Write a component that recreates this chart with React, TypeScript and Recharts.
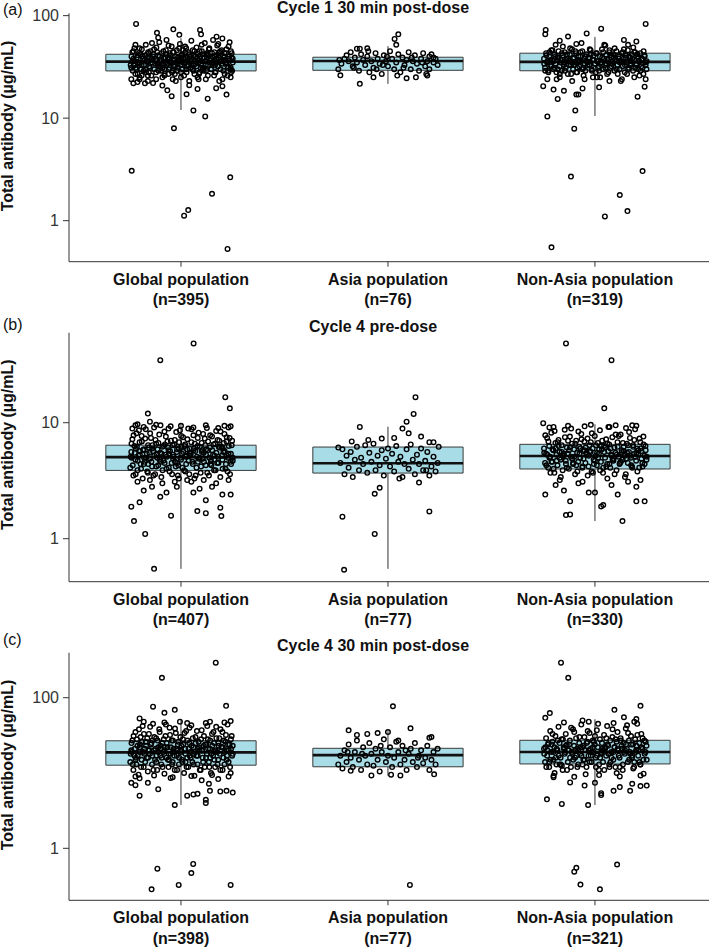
import { ReferenceArea, ReferenceLine, Scatter, ScatterChart, XAxis, YAxis } from "recharts"

type Pt = [number, number]
// lower whisker, q1, median, q3, upper whisker
type Box = [number, number, number, number, number]

const GROUPS = ["Global population", "Asia population", "Non-Asia population"]
const TITLES = ["Cycle 1 30 min post-dose", "Cycle 4 pre-dose", "Cycle 4 30 min post-dose"]
const TAGS = ["(a)", "(b)", "(c)"]

const N_C1_POST = [395, 76, 319]
const N_C4_PRE = [407, 77, 330]
const N_C4_POST = [398, 77, 321]

const BOX_C1_POST: Box[] = [
  [12, 28.9, 35.6, 42, 60],
  [21.6, 29.3, 36.1, 39.3, 50.4],
  [10.5, 29, 35.4, 43, 62]
]
const BOX_C4_PRE: Box[] = [
  [0.55, 3.88, 5.05, 6.4, 9.8],
  [0.55, 3.68, 4.47, 6.17, 9.24],
  [1.42, 3.99, 5.16, 6.51, 9.7]
]
const BOX_C4_POST: Box[] = [
  [3.76, 12.7, 18.8, 26.8, 51.7],
  [9.2, 12.1, 17.3, 21.3, 36],
  [3.76, 13.2, 19, 27.2, 51.7]
]

const Y_TICKS_C1_POST = [1, 10, 100]
const Y_TICKS_C4_PRE = [1, 10]
const Y_TICKS_C4_POST = [1, 100]

// jittered points: [offset from the group centre, µg/mL]
const C1_POST_GLOBAL: Pt[] = [
  [-0.238, 3.07], [0.238, 2.65], [0.15, 1.83], [0.035, 1.27], [0.015, 1.12], [0.225, 0.53], [-0.034, 7.97], [0.06, 11.9],
  [0.117, 10.4], [0.027, 17.1], [-0.045, 16.4], [-0.066, 18.7], [0.129, 15.5], [0.22, 17], [-0.217, 83], [-0.037, 73.6],
  [0.092, 72.5], [0.097, 65.8], [-0.116, 68], [-0.008, 65], [0.172, 62.4], [-0.11, 61], [-0.174, 21.9], [-0.23, 21.9],
  [-0.21, 22.5], [0.2, 20.5], [0.17, 19.6], [0.08, 19.3], [-0.09, 20.8],
  [-0.24, 31], [-0.23, 38], [-0.235, 44], [-0.22, 27], [-0.21, 35], [-0.2, 48], [-0.2, 24], [-0.19, 33], [-0.185, 40],
  [-0.18, 29], [-0.17, 52], [-0.165, 36], [-0.16, 26], [-0.155, 43], [-0.15, 31], [-0.14, 38], [-0.135, 22], [-0.13, 47],
  [-0.125, 34], [-0.12, 28], [-0.11, 41], [-0.105, 55], [-0.1, 32], [-0.095, 37], [-0.09, 25], [-0.085, 45], [-0.08, 30],
  [-0.075, 39], [-0.07, 58], [-0.065, 34], [-0.06, 27], [-0.055, 43], [-0.05, 36], [-0.045, 50], [-0.04, 29], [-0.035, 33],
  [-0.03, 40], [-0.025, 23], [-0.02, 46], [-0.015, 31], [-0.01, 37], [-0.005, 53], [0, 28], [0.005, 42], [0.01, 35],
  [0.015, 26], [0.02, 39], [0.025, 48], [0.03, 32], [0.035, 44], [0.04, 21], [0.045, 36], [0.05, 57], [0.055, 30],
  [0.06, 41], [0.065, 27], [0.07, 34], [0.075, 49], [0.08, 38], [0.085, 24], [0.09, 45], [0.095, 31], [0.1, 36],
  [0.105, 42], [0.11, 29], [0.115, 54], [0.12, 33], [0.125, 39], [0.13, 26], [0.135, 47], [0.14, 35], [0.145, 30],
  [0.15, 43], [0.155, 58], [0.16, 37], [0.165, 28], [0.17, 41], [0.175, 51], [0.18, 32], [0.185, 23], [0.19, 45],
  [0.195, 36], [0.2, 60], [0.205, 29], [0.21, 40], [0.215, 34], [0.22, 47], [0.225, 26], [0.23, 38], [0.235, 55],
  [0.24, 31], [0.245, 43], [0.25, 35], [-0.228, 33], [-0.208, 41], [-0.172, 30], [-0.148, 45], [-0.118, 36], [-0.088, 33],
  [-0.058, 38], [-0.028, 35], [0.002, 39], [0.032, 37], [0.062, 33], [0.092, 40], [0.122, 36], [0.152, 34], [0.182, 39],
  [0.212, 37], [0.242, 28], [-0.235, 36], [-0.215, 30], [-0.195, 42], [-0.175, 37], [-0.155, 28], [-0.135, 40],
  [-0.115, 44], [-0.095, 29], [-0.075, 35], [-0.055, 31], [-0.035, 44], [-0.015, 39], [0.005, 33], [0.025, 30],
  [0.045, 40], [0.065, 45], [0.085, 35], [0.105, 30], [0.125, 43], [0.145, 38], [0.165, 33], [0.185, 44], [0.205, 37],
  [0.225, 32], [0.245, 39], [-0.225, 48], [-0.19, 26], [-0.16, 39], [-0.11, 33], [-0.07, 42], [-0.03, 27], [0.01, 46],
  [0.05, 34], [0.09, 28], [0.13, 41], [0.17, 36], [0.21, 43], [0.24, 30], [-0.2, 34], [0, 36]
]
const C1_POST_GLOBAL_CORE: Pt[] = [
  [-0.243, 33], [-0.239, 40], [-0.233, 29], [-0.229, 45], [-0.223, 36], [-0.219, 31], [-0.213, 39], [-0.209, 27],
  [-0.203, 43], [-0.199, 35], [-0.193, 30], [-0.189, 47], [-0.183, 38], [-0.179, 33], [-0.173, 41], [-0.169, 28],
  [-0.163, 36], [-0.159, 44], [-0.153, 32], [-0.149, 39], [-0.143, 26], [-0.139, 35], [-0.133, 42], [-0.129, 30],
  [-0.123, 37], [-0.119, 49], [-0.113, 34], [-0.109, 29], [-0.103, 40], [-0.099, 36], [-0.093, 43], [-0.089, 31],
  [-0.083, 38], [-0.079, 27], [-0.073, 46], [-0.069, 33], [-0.063, 39], [-0.059, 30], [-0.053, 41], [-0.049, 35],
  [-0.043, 28], [-0.039, 44], [-0.033, 37], [-0.029, 32], [-0.023, 40], [-0.019, 29], [-0.013, 36], [-0.009, 48],
  [-0.003, 33], [0.001, 41], [0.007, 30], [0.011, 38], [0.017, 35], [0.021, 44], [0.027, 28], [0.031, 39], [0.037, 33],
  [0.041, 42], [0.047, 31], [0.051, 37], [0.057, 46], [0.061, 29], [0.067, 36], [0.071, 40], [0.077, 32], [0.081, 43],
  [0.087, 27], [0.091, 38], [0.097, 34], [0.101, 45], [0.107, 31], [0.111, 39], [0.117, 36], [0.121, 29], [0.127, 42],
  [0.131, 33], [0.137, 48], [0.141, 37], [0.147, 30], [0.151, 40], [0.157, 35], [0.161, 44], [0.167, 28], [0.171, 38],
  [0.177, 32], [0.181, 41], [0.187, 36], [0.191, 30], [0.197, 46], [0.201, 34], [0.207, 39], [0.211, 27], [0.217, 43],
  [0.221, 35], [0.227, 31], [0.231, 40], [0.237, 37], [0.241, 45], [0.247, 29], [0.25, 38], [-0.24, 24], [-0.2, 25],
  [-0.16, 23], [-0.12, 24], [-0.08, 26], [-0.04, 24], [0, 25], [0.04, 23], [0.08, 25], [0.12, 24], [0.16, 26], [0.2, 24],
  [0.24, 25], [-0.22, 52], [-0.14, 54], [-0.06, 51], [0.02, 50], [0.1, 52], [0.18, 53], [0.23, 50]
]
const C1_POST_ASIA: Pt[] = [
  [0.05, 65.8], [0.032, 59.3], [0.04, 52], [-0.136, 47.6], [-0.15, 47.6], [-0.23, 26.2], [-0.136, 21.6], [-0.07, 25],
  [0.09, 24.5], [0.19, 26], [-0.1, 48], [0.2, 40], [0.22, 39],
  [-0.24, 30], [-0.225, 34], [-0.21, 38], [-0.2, 41], [-0.19, 36], [-0.18, 44], [-0.17, 32], [-0.16, 39], [-0.15, 35],
  [-0.14, 29], [-0.13, 42], [-0.12, 37], [-0.11, 33], [-0.1, 40], [-0.09, 28], [-0.08, 36], [-0.07, 31], [-0.06, 43],
  [-0.05, 38], [-0.04, 34], [-0.03, 27], [-0.02, 41], [-0.01, 36], [0, 32], [0.01, 45], [0.02, 38], [0.03, 30],
  [0.04, 35], [0.05, 42], [0.06, 28], [0.07, 39], [0.08, 33], [0.09, 37], [0.1, 44], [0.11, 30], [0.12, 36],
  [0.13, 41], [0.14, 34], [0.15, 29], [0.16, 38], [0.17, 43], [0.18, 32], [0.19, 36], [0.2, 30], [0.21, 42],
  [0.22, 35], [0.23, 38], [0.24, 33], [-0.235, 37], [-0.165, 31], [-0.095, 45], [-0.025, 33], [0.045, 26], [0.115, 39],
  [0.185, 27], [0.165, 35], [-0.055, 30], [0.075, 31], [-0.005, 40], [0.135, 25]
]
const C1_POST_NON_ASIA: Pt[] = [
  [-0.21, 0.55], [-0.116, 2.69], [0.23, 3.05], [0.12, 1.78], [0.157, 1.24], [0.048, 1.1], [-0.1, 7.9], [-0.23, 10.4],
  [-0.095, 11.9], [0.206, 16.2], [-0.18, 15.4], [-0.08, 17], [-0.09, 17], [0.245, 83], [-0.238, 72.5], [0.03, 74.7],
  [-0.04, 67], [-0.13, 62.6], [0.24, 20.3], [-0.25, 20.5], [-0.2, 19], [-0.15, 18.5], [-0.06, 19.5], [0.02, 20],
  [-0.24, 66], [0.14, 58], [0.2, 56], [-0.17, 57],
  [-0.245, 34], [-0.235, 41], [-0.225, 28], [-0.215, 37], [-0.205, 46], [-0.195, 31], [-0.185, 24], [-0.175, 39],
  [-0.165, 35], [-0.155, 50], [-0.145, 29], [-0.135, 42], [-0.125, 33], [-0.115, 27], [-0.105, 38], [-0.095, 45],
  [-0.085, 31], [-0.075, 36], [-0.065, 54], [-0.055, 26], [-0.045, 40], [-0.035, 33], [-0.025, 47], [-0.015, 29],
  [-0.005, 37], [0.005, 43], [0.015, 31], [0.025, 25], [0.035, 39], [0.045, 52], [0.055, 34], [0.065, 28], [0.075, 41],
  [0.085, 36], [0.095, 48], [0.105, 30], [0.115, 38], [0.125, 23], [0.135, 44], [0.145, 33], [0.155, 27], [0.165, 40],
  [0.175, 36], [0.185, 49], [0.195, 31], [0.205, 42], [0.215, 26], [0.225, 37], [0.235, 45], [0.245, 33], [-0.24, 29],
  [-0.22, 44], [-0.2, 36], [-0.18, 30], [-0.16, 43], [-0.14, 37], [-0.12, 48], [-0.1, 33], [-0.08, 40], [-0.06, 30],
  [-0.04, 36], [-0.02, 42], [0, 34], [0.02, 29], [0.04, 44], [0.06, 38], [0.08, 32], [0.1, 41], [0.12, 35], [0.14, 47],
  [0.16, 30], [0.18, 38], [0.2, 34], [0.22, 29], [0.24, 40], [-0.23, 36], [-0.19, 40], [-0.15, 33], [-0.11, 35],
  [-0.07, 44], [-0.03, 38], [0.01, 36], [0.05, 31], [0.09, 39], [0.13, 36], [0.17, 33], [0.21, 39], [0.23, 31],
  [-0.21, 32], [-0.17, 27], [-0.13, 38], [-0.09, 28], [-0.05, 34], [-0.01, 25], [0.03, 35], [0.07, 46], [0.11, 27],
  [0.15, 39], [0.19, 44], [0.25, 36]
]
const C1_POST_NON_ASIA_CORE: Pt[] = [
  [-0.246, 38], [-0.241, 31], [-0.236, 43], [-0.231, 35], [-0.226, 29], [-0.221, 40], [-0.216, 33], [-0.211, 46],
  [-0.206, 37], [-0.201, 30], [-0.196, 42], [-0.191, 34], [-0.186, 28], [-0.181, 39], [-0.176, 45], [-0.171, 32],
  [-0.166, 37], [-0.161, 29], [-0.156, 41], [-0.151, 35], [-0.146, 44], [-0.141, 31], [-0.136, 38], [-0.131, 27],
  [-0.126, 36], [-0.121, 42], [-0.116, 33], [-0.111, 47], [-0.106, 30], [-0.101, 39], [-0.096, 35], [-0.091, 43],
  [-0.086, 28], [-0.081, 37], [-0.076, 32], [-0.071, 40], [-0.066, 36], [-0.061, 45], [-0.056, 31], [-0.051, 38],
  [-0.046, 29], [-0.041, 42], [-0.036, 35], [-0.031, 39], [-0.026, 33], [-0.021, 46], [-0.016, 30], [-0.011, 37],
  [-0.006, 41], [-0.001, 34], [0.004, 28], [0.009, 43], [0.014, 36], [0.019, 32], [0.024, 40], [0.029, 35], [0.034, 47],
  [0.039, 30], [0.044, 38], [0.049, 33], [0.054, 41], [0.059, 27], [0.064, 36], [0.069, 44], [0.074, 31], [0.079, 39],
  [0.084, 34], [0.089, 42], [0.094, 29], [0.099, 37], [0.104, 45], [0.109, 33], [0.114, 40], [0.119, 30], [0.124, 36],
  [0.129, 43], [0.134, 32], [0.139, 38], [0.144, 28], [0.149, 41], [0.154, 35], [0.159, 46], [0.164, 31], [0.169, 39],
  [0.174, 34], [0.179, 42], [0.184, 29], [0.189, 37], [0.194, 44], [0.199, 33], [0.204, 40], [0.209, 30], [0.214, 36],
  [0.219, 43], [0.224, 32], [0.229, 38], [0.234, 27], [0.239, 41], [0.244, 35], [0.249, 30], [-0.23, 24], [-0.17, 25],
  [-0.11, 23], [-0.05, 24], [0.01, 25], [0.07, 23], [0.13, 24], [0.19, 25], [0.245, 24], [-0.19, 52], [-0.09, 53],
  [0.05, 51], [0.16, 52]
]

const C4_PRE_GLOBAL: Pt[] = [
  [0.061, 48.3], [-0.1, 34.6], [0.214, 16.6], [0.236, 13.3], [-0.16, 12], [-0.13, 0.55], [-0.173, 1.1], [-0.227, 1.42],
  [-0.24, 1.89], [-0.2, 2.06], [-0.048, 1.58], [0.079, 1.73], [0.12, 1.66], [0.195, 1.57], [0.19, 1.85], [0.12, 2.15],
  [0.2, 2.4], [0.24, 2.4], [-0.1, 2.3], [-0.07, 2.5], [-0.22, 9.5], [-0.21, 9.7], [-0.15, 10.2], [0.21, 9.4],
  [0.23, 9.1], [-0.02, 2.8], [0.06, 2.5], [0.09, 2.7], [0.15, 2.8], [-0.14, 2.8], [-0.18, 2.6], [0.03, 3.2], [-0.03, 3.1],
  [-0.245, 4.1], [-0.24, 5.6], [-0.235, 7.2], [-0.23, 3.5], [-0.225, 6.3], [-0.22, 4.8], [-0.215, 8.1], [-0.21, 3.9],
  [-0.205, 5.2], [-0.2, 6.8], [-0.195, 4.4], [-0.19, 7.7], [-0.185, 3.3], [-0.18, 5.9], [-0.175, 4.6], [-0.17, 8.8],
  [-0.165, 5.4], [-0.16, 3.7], [-0.155, 6.1], [-0.15, 4.9], [-0.145, 7.4], [-0.14, 4.2], [-0.135, 5.7], [-0.13, 9.1],
  [-0.125, 3.6], [-0.12, 6.6], [-0.115, 5], [-0.11, 4.3], [-0.105, 7.9], [-0.1, 5.5], [-0.095, 3.4], [-0.09, 6.2],
  [-0.085, 4.7], [-0.08, 8.4], [-0.075, 5.3], [-0.07, 4], [-0.065, 6.9], [-0.06, 5.8], [-0.055, 3.8], [-0.05, 9.3],
  [-0.045, 4.5], [-0.04, 6.4], [-0.035, 5.1], [-0.03, 7.1], [-0.025, 4.2], [-0.02, 5.6], [-0.015, 3.5], [-0.01, 6],
  [-0.005, 8.6], [0, 4.8], [0.005, 5.4], [0.01, 7.5], [0.015, 3.9], [0.02, 6.5], [0.025, 4.4], [0.03, 5.9], [0.035, 8.9],
  [0.04, 3.6], [0.045, 5.2], [0.05, 6.8], [0.055, 4.6], [0.06, 7.8], [0.065, 3.3], [0.07, 5.7], [0.075, 4.1], [0.08, 6.3],
  [0.085, 8.2], [0.09, 5], [0.095, 3.7], [0.1, 6.7], [0.105, 4.9], [0.11, 5.5], [0.115, 7.3], [0.12, 4.3], [0.125, 9],
  [0.13, 5.8], [0.135, 3.5], [0.14, 6.1], [0.145, 4.7], [0.15, 7.6], [0.155, 5.3], [0.16, 3.9], [0.165, 6.6], [0.17, 8.5],
  [0.175, 4.5], [0.18, 5.1], [0.185, 7], [0.19, 3.4], [0.195, 6.2], [0.2, 4.8], [0.205, 5.6], [0.21, 8], [0.215, 4],
  [0.22, 6.9], [0.225, 3.8], [0.23, 5.4], [0.235, 7.4], [0.24, 4.6], [0.245, 6.4], [0.25, 5], [-0.238, 5], [-0.198, 5.7],
  [-0.158, 4.4], [-0.118, 5.3], [-0.078, 6.5], [-0.038, 4.9], [0.002, 6.2], [0.042, 5.5], [0.082, 4.6], [0.122, 5.9],
  [0.162, 5.2], [0.202, 6], [0.242, 4.4], [-0.218, 6], [-0.178, 5], [-0.138, 6.4], [-0.098, 4.6], [-0.058, 5.4],
  [-0.018, 4.5], [0.022, 5.1], [0.062, 6], [0.102, 5.8], [0.142, 4.4], [0.182, 6.2], [0.222, 5.2]
]
const C4_PRE_GLOBAL_CORE: Pt[] = [
  [-0.243, 5.1], [-0.239, 6.6], [-0.233, 4.3], [-0.229, 7.8], [-0.223, 5.5], [-0.219, 3.6], [-0.213, 6.2], [-0.209, 4.7],
  [-0.203, 8.6], [-0.199, 5.3], [-0.193, 4], [-0.189, 6.9], [-0.183, 5.8], [-0.179, 4.4], [-0.173, 7.3], [-0.169, 5],
  [-0.163, 3.8], [-0.159, 6.4], [-0.153, 5.5], [-0.149, 8.1], [-0.143, 4.6], [-0.139, 6], [-0.133, 3.5], [-0.129, 5.2],
  [-0.123, 7.1], [-0.119, 4.2], [-0.113, 5.9], [-0.109, 6.7], [-0.103, 4.8], [-0.099, 9.5], [-0.093, 5.4], [-0.089, 3.9],
  [-0.083, 6.3], [-0.079, 4.5], [-0.073, 7.6], [-0.069, 5.1], [-0.063, 6.1], [-0.059, 4.1], [-0.053, 5.7], [-0.049, 7],
  [-0.043, 3.6], [-0.039, 5.3], [-0.033, 6.5], [-0.029, 4.6], [-0.023, 8.3], [-0.019, 5.9], [-0.013, 4.3], [-0.009, 6.8],
  [-0.003, 5], [0.001, 7.7], [0.007, 4.1], [0.011, 5.6], [0.017, 6.3], [0.021, 3.8], [0.027, 5.2], [0.031, 7.2],
  [0.037, 4.7], [0.041, 6], [0.047, 5.4], [0.051, 8.8], [0.057, 4.4], [0.061, 5.8], [0.067, 6.6], [0.071, 3.5],
  [0.077, 5.1], [0.081, 7.4], [0.087, 4.9], [0.091, 6.2], [0.097, 4.2], [0.101, 5.6], [0.107, 8], [0.111, 4.6],
  [0.117, 6.4], [0.121, 5.3], [0.127, 3.7], [0.131, 6.9], [0.137, 5], [0.141, 7.8], [0.147, 4.3], [0.151, 5.8],
  [0.157, 6.5], [0.161, 4.8], [0.167, 3.9], [0.171, 5.5], [0.177, 7.1], [0.181, 4.5], [0.187, 6.1], [0.191, 8.4],
  [0.197, 5.2], [0.201, 4], [0.207, 6.7], [0.211, 5.7], [0.217, 4.4], [0.221, 7.5], [0.227, 5], [0.231, 6.3],
  [0.237, 3.6], [0.241, 5.4], [0.247, 7], [0.25, 4.7], [-0.235, 8.9], [-0.18, 9.2], [-0.12, 9.6], [-0.06, 8.9], [0, 9.4],
  [0.06, 9.1], [0.12, 9.5], [0.18, 9], [0.24, 9.3], [-0.21, 3.1], [-0.15, 3.2], [-0.09, 3], [-0.01, 3.3], [0.05, 3.1],
  [0.11, 3.2], [0.17, 3], [0.23, 3.2]
]
const C4_PRE_ASIA: Pt[] = [
  [0.133, 16.6], [0.124, 11.9], [0.09, 10.2], [0.07, 8.9], [0.1, 8.1], [-0.136, 9.2], [-0.212, 0.54], [-0.064, 1.1],
  [-0.22, 1.55], [0.2, 1.72], [-0.064, 2.44], [-0.04, 2.75], [0.15, 3.05], [0.22, 6.8], [0.2, 6.8], [0.16, 7.6],
  [0.03, 7.4], [-0.03, 7.3],
  [-0.24, 6.1], [-0.23, 4.5], [-0.22, 5.9], [-0.21, 3.6], [-0.2, 5.2], [-0.19, 4.1], [-0.18, 5.6], [-0.17, 3.4],
  [-0.16, 4.8], [-0.15, 6.2], [-0.14, 3.9], [-0.13, 5], [-0.12, 4.4], [-0.11, 6.4], [-0.1, 3.7], [-0.09, 5.5],
  [-0.08, 4.6], [-0.07, 6.6], [-0.06, 3.9], [-0.05, 5.2], [-0.04, 4.3], [-0.03, 5.8], [-0.02, 3.5], [-0.01, 4.9], [0, 6],
  [0.01, 4.2], [0.02, 5.4], [0.03, 3.8], [0.04, 6.3], [0.05, 4.6], [0.06, 5.1], [0.07, 3.4], [0.08, 4.4], [0.09, 5.9],
  [0.1, 4], [0.11, 6.5], [0.12, 4.8], [0.13, 3.6], [0.14, 5.3], [0.15, 4.4], [0.16, 6], [0.17, 3.9], [0.18, 4.7],
  [0.19, 5.6], [0.2, 3.5], [0.21, 4.2], [0.22, 5.1], [0.23, 3.8], [0.24, 4.5], [0.245, 6.2], [-0.175, 6.9],
  [-0.095, 7.1], [0.055, 3.3], [0.185, 3.9]
]
const C4_PRE_NON_ASIA: Pt[] = [
  [-0.14, 48.3], [0.08, 34.6], [0.045, 13.3], [0.133, 1.42], [-0.14, 1.6], [-0.12, 1.62], [-0.12, 2.1], [-0.24, 2.4],
  [-0.15, 2.6], [0.03, 1.9], [0.04, 1.95], [0.2, 2.1], [0.24, 2.1], [0.2, 2.8], [-0.25, 9.9], [0.2, 9.4], [0.1, 9.5],
  [-0.2, 9.2], [-0.05, 9.3], [0.15, 9], [-0.03, 2.5], [0, 2.5], [0.11, 2.4], [-0.19, 2.9], [0.08, 2.9], [-0.08, 3],
  [-0.245, 5.5], [-0.235, 4.3], [-0.225, 6.9], [-0.215, 3.7], [-0.205, 5.9], [-0.195, 8.5], [-0.185, 4.7], [-0.175, 6.3],
  [-0.165, 3.4], [-0.155, 5.2], [-0.145, 7.5], [-0.135, 4.1], [-0.125, 5.8], [-0.115, 8.9], [-0.105, 4.5], [-0.095, 6.6],
  [-0.085, 3.8], [-0.075, 5.4], [-0.065, 7.2], [-0.055, 4.9], [-0.045, 6.1], [-0.035, 3.5], [-0.025, 5.7], [-0.015, 8.1],
  [-0.005, 4.4], [0.005, 6.4], [0.015, 5], [0.025, 3.9], [0.035, 7], [0.045, 5.6], [0.055, 4.2], [0.065, 9.2], [0.075, 6],
  [0.085, 4.8], [0.095, 3.6], [0.105, 5.3], [0.115, 7.7], [0.125, 4.6], [0.135, 6.7], [0.145, 3.4], [0.155, 5.5],
  [0.165, 8.3], [0.175, 4.3], [0.185, 6.2], [0.195, 5.1], [0.205, 3.8], [0.215, 7.3], [0.225, 4.9], [0.235, 6.5],
  [0.245, 5.8], [-0.24, 7.8], [-0.22, 5], [-0.2, 4], [-0.18, 6.8], [-0.16, 5.6], [-0.14, 4.4], [-0.12, 6.1], [-0.1, 5.1],
  [-0.08, 8.4], [-0.06, 4.2], [-0.04, 5.5], [-0.02, 6.8], [0, 4.7], [0.02, 5.9], [0.04, 4.1], [0.06, 6.6], [0.08, 5.2],
  [0.1, 7.9], [0.12, 4.5], [0.14, 5.7], [0.16, 6.4], [0.18, 4.1], [0.2, 5.5], [0.22, 6], [0.24, 4.4], [-0.23, 5.3],
  [-0.19, 6], [-0.15, 5.4], [-0.11, 4.9], [-0.07, 6], [-0.03, 5.2], [0.01, 5.5], [0.05, 6.1], [0.09, 4.9], [0.13, 5.6],
  [0.17, 5.2], [0.21, 5.8], [0.25, 5.1], [-0.21, 4.6], [-0.17, 5], [-0.13, 7], [-0.09, 4.3], [-0.05, 5.8], [-0.01, 3.7],
  [0.03, 6.3], [0.07, 4.4], [0.11, 6.2], [0.15, 4.9], [0.19, 7.1], [0.23, 4.2]
]
const C4_PRE_NON_ASIA_CORE: Pt[] = [
  [-0.246, 6], [-0.241, 4.5], [-0.236, 5.4], [-0.231, 7.4], [-0.226, 4.1], [-0.221, 6.3], [-0.216, 5.1], [-0.211, 8.2],
  [-0.206, 4.6], [-0.201, 5.8], [-0.196, 3.7], [-0.191, 6.7], [-0.186, 5.3], [-0.181, 4.3], [-0.176, 7.1], [-0.171, 5.6],
  [-0.166, 4.8], [-0.161, 6.4], [-0.156, 3.9], [-0.151, 5.2], [-0.146, 8.7], [-0.141, 4.7], [-0.136, 6.1], [-0.131, 5.4],
  [-0.126, 4], [-0.121, 7.6], [-0.116, 5.1], [-0.111, 6.6], [-0.106, 4.4], [-0.101, 5.9], [-0.096, 3.6], [-0.091, 7],
  [-0.086, 5.5], [-0.081, 4.6], [-0.076, 6.2], [-0.071, 5], [-0.066, 8], [-0.061, 4.1], [-0.056, 5.7], [-0.051, 6.9],
  [-0.046, 4.5], [-0.041, 5.3], [-0.036, 7.3], [-0.031, 4.2], [-0.026, 6.4], [-0.021, 5.6], [-0.016, 3.8], [-0.011, 6],
  [-0.006, 4.8], [-0.001, 7.7], [0.004, 5.2], [0.009, 4.3], [0.014, 6.7], [0.019, 5.4], [0.024, 8.6], [0.029, 4.6],
  [0.034, 5.9], [0.039, 3.7], [0.044, 6.3], [0.049, 5], [0.054, 7.2], [0.059, 4.4], [0.064, 5.7], [0.069, 6.5],
  [0.074, 4.1], [0.079, 5.3], [0.084, 7.5], [0.089, 4.7], [0.094, 6.1], [0.099, 5.5], [0.104, 3.9], [0.109, 6.8],
  [0.114, 5.1], [0.119, 4.4], [0.124, 7.9], [0.129, 5.8], [0.134, 4.8], [0.139, 6.2], [0.144, 5.2], [0.149, 3.6],
  [0.154, 6.6], [0.159, 4.5], [0.164, 5.6], [0.169, 7.4], [0.174, 5], [0.179, 4.2], [0.184, 6.4], [0.189, 5.4],
  [0.194, 8.8], [0.199, 4.7], [0.204, 6], [0.209, 5.3], [0.214, 4.1], [0.219, 6.8], [0.224, 5.7], [0.229, 4.5],
  [0.234, 7.6], [0.239, 5.2], [0.244, 6.3], [0.249, 4.8], [-0.22, 9.1], [-0.13, 9.4], [-0.02, 9.6], [0.07, 9.2],
  [0.18, 9.5], [-0.17, 3.2], [-0.06, 3.1], [0.06, 3.3], [0.16, 3.1], [0.22, 3.2]
]

const C4_POST_GLOBAL: Pt[] = [
  [0.168, 292], [-0.092, 184], [0.218, 78], [-0.135, 76], [-0.03, 69], [-0.08, 63], [-0.2, 53], [0.24, 49], [-0.2, 5],
  [-0.03, 3.76], [0.12, 4], [0.12, 4.4], [0.06, 5.2], [0.08, 5.3], [0.14, 5.8], [-0.22, 6.9], [-0.24, 7.4], [-0.16, 7.4],
  [-0.11, 6.1], [0.03, 5], [0.22, 5.8], [0.25, 5.5], [0.19, 5.7], [0.135, 7.2], [-0.114, 0.536], [0.059, 0.62],
  [0.05, 0.47], [-0.142, 0.285], [-0.011, 0.326], [0.24, 0.326], [-0.2, 8.5], [0.1, 8], [0.18, 8.3], [-0.05, 8.6],
  [-0.245, 14], [-0.24, 20], [-0.235, 27], [-0.23, 11], [-0.225, 17], [-0.22, 35], [-0.215, 13], [-0.21, 23],
  [-0.205, 9.5], [-0.2, 19], [-0.195, 30], [-0.19, 15], [-0.185, 42], [-0.18, 12], [-0.175, 21], [-0.17, 26],
  [-0.165, 16], [-0.16, 10.5], [-0.155, 33], [-0.15, 18], [-0.145, 24], [-0.14, 13], [-0.135, 45], [-0.13, 20],
  [-0.125, 15], [-0.12, 29], [-0.115, 11], [-0.11, 22], [-0.105, 38], [-0.1, 17], [-0.095, 13], [-0.09, 25],
  [-0.085, 19], [-0.08, 9.8], [-0.075, 31], [-0.07, 16], [-0.065, 22], [-0.06, 12], [-0.055, 40], [-0.05, 18],
  [-0.045, 27], [-0.04, 14], [-0.035, 21], [-0.03, 11], [-0.025, 34], [-0.02, 17], [-0.015, 24], [-0.01, 13],
  [-0.005, 48], [0, 19], [0.005, 15], [0.01, 28], [0.015, 10], [0.02, 21], [0.025, 36], [0.03, 16], [0.035, 12],
  [0.04, 25], [0.045, 19], [0.05, 43], [0.055, 14], [0.06, 22], [0.065, 9.2], [0.07, 30], [0.075, 17], [0.08, 13],
  [0.085, 26], [0.09, 20], [0.095, 11], [0.1, 37], [0.105, 16], [0.11, 23], [0.115, 12], [0.12, 46], [0.125, 18],
  [0.13, 28], [0.135, 14], [0.14, 21], [0.145, 10], [0.15, 33], [0.155, 17], [0.16, 25], [0.165, 12], [0.17, 41],
  [0.175, 19], [0.18, 15], [0.185, 29], [0.19, 11], [0.195, 22], [0.2, 35], [0.205, 16], [0.21, 13], [0.215, 26],
  [0.22, 20], [0.225, 44], [0.23, 14], [0.235, 24], [0.24, 10], [0.245, 31], [0.25, 18], [-0.238, 19], [-0.198, 24],
  [-0.158, 20], [-0.118, 17], [-0.078, 22], [-0.038, 19], [0.002, 23], [0.042, 17], [0.082, 21], [0.122, 24],
  [0.162, 19], [0.202, 22], [0.242, 21], [-0.218, 16], [-0.178, 18], [-0.138, 27], [-0.098, 21], [-0.058, 15],
  [-0.018, 20], [0.022, 14], [0.062, 18], [0.102, 20], [0.142, 16], [0.182, 23], [0.222, 17]
]
const C4_POST_GLOBAL_CORE: Pt[] = [
  [-0.243, 18], [-0.239, 25], [-0.233, 13], [-0.229, 31], [-0.223, 21], [-0.219, 15], [-0.213, 28], [-0.209, 17],
  [-0.203, 38], [-0.199, 22], [-0.193, 12], [-0.189, 26], [-0.183, 19], [-0.179, 33], [-0.173, 14], [-0.169, 23],
  [-0.163, 29], [-0.159, 16], [-0.153, 20], [-0.149, 41], [-0.143, 25], [-0.139, 17], [-0.133, 11], [-0.129, 30],
  [-0.123, 21], [-0.119, 14], [-0.113, 27], [-0.109, 19], [-0.103, 35], [-0.099, 23], [-0.093, 16], [-0.089, 12],
  [-0.083, 28], [-0.079, 20], [-0.073, 44], [-0.069, 25], [-0.063, 15], [-0.059, 18], [-0.053, 32], [-0.049, 22],
  [-0.043, 13], [-0.039, 27], [-0.033, 17], [-0.029, 39], [-0.023, 21], [-0.019, 11], [-0.013, 26], [-0.009, 16],
  [-0.003, 30], [0.001, 20], [0.007, 14], [0.011, 24], [0.017, 34], [0.021, 18], [0.027, 12], [0.031, 27], [0.037, 21],
  [0.041, 40], [0.047, 16], [0.051, 23], [0.057, 29], [0.061, 13], [0.067, 19], [0.071, 25], [0.077, 36], [0.081, 17],
  [0.087, 22], [0.091, 11], [0.097, 28], [0.101, 20], [0.107, 14], [0.111, 31], [0.117, 24], [0.121, 16], [0.127, 42],
  [0.131, 21], [0.137, 12], [0.141, 27], [0.147, 18], [0.151, 23], [0.157, 35], [0.161, 15], [0.167, 20], [0.171, 29],
  [0.177, 13], [0.181, 25], [0.187, 18], [0.191, 38], [0.197, 22], [0.201, 11], [0.207, 27], [0.211, 19], [0.217, 32],
  [0.221, 15], [0.227, 24], [0.231, 20], [0.237, 12], [0.241, 28], [0.247, 17], [0.25, 23], [-0.22, 9], [-0.13, 9.3],
  [-0.04, 8.8], [0.05, 9.1], [0.15, 9.4], [0.23, 9], [-0.18, 48], [-0.08, 47], [0.03, 46], [0.14, 48], [0.21, 47]
]
const C4_POST_ASIA: Pt[] = [
  [0.024, 77], [0.109, 39.2], [-0.19, 36.9], [0.2, 29.3], [0.21, 30], [0.223, 9.6], [0.106, 0.326], [-0.08, 9.3],
  [0.06, 9.3], [-0.18, 10.7], [-0.1, 33], [-0.05, 34], [0, 35], [0.05, 27], [-0.15, 32],
  [-0.24, 13], [-0.23, 17], [-0.22, 11.5], [-0.21, 20], [-0.2, 14], [-0.19, 24], [-0.18, 16], [-0.17, 12], [-0.16, 19],
  [-0.15, 27], [-0.14, 15], [-0.13, 11], [-0.12, 22], [-0.11, 17], [-0.1, 13], [-0.09, 25], [-0.08, 18], [-0.07, 12.5],
  [-0.06, 21], [-0.05, 15], [-0.04, 10.5], [-0.03, 19], [-0.02, 28], [-0.01, 14], [0, 17], [0.01, 22], [0.02, 12],
  [0.03, 16], [0.04, 26], [0.05, 19], [0.06, 13], [0.07, 23], [0.08, 15], [0.09, 11], [0.1, 18], [0.11, 21], [0.12, 14],
  [0.13, 25], [0.14, 12], [0.15, 17], [0.16, 20], [0.17, 13.5], [0.18, 16], [0.19, 23], [0.2, 11], [0.21, 15],
  [0.22, 19], [0.23, 13], [0.24, 21], [-0.035, 23], [0.085, 20], [0.145, 16], [-0.125, 18], [-0.195, 19], [0.015, 9.5]
]
const C4_POST_NON_ASIA: Pt[] = [
  [-0.164, 292], [-0.129, 184], [0.22, 78], [0.094, 69], [-0.218, 62.6], [-0.232, 4.47], [-0.16, 3.88], [-0.033, 3.76],
  [0.03, 5.1], [0.03, 5.4], [0.09, 5.8], [0.17, 5.8], [0.22, 6.7], [0.18, 7.2], [0.107, 0.61], [-0.09, 0.55],
  [-0.1, 0.49], [-0.07, 0.33], [0.024, 0.285], [-0.2, 8.8], [-0.12, 7.5], [-0.05, 6.8], [0.12, 6.5], [0.25, 6.8],
  [0, 7.4], [-0.24, 54], [0.14, 55], [0.2, 52], [-0.06, 50],
  [-0.245, 18], [-0.235, 12], [-0.225, 25], [-0.215, 15], [-0.205, 33], [-0.195, 10], [-0.185, 21], [-0.175, 17],
  [-0.165, 13], [-0.155, 28], [-0.145, 19], [-0.135, 11], [-0.125, 24], [-0.115, 40], [-0.105, 15], [-0.095, 20],
  [-0.085, 12], [-0.075, 30], [-0.065, 17], [-0.055, 23], [-0.045, 9.6], [-0.035, 36], [-0.025, 14], [-0.015, 19],
  [-0.005, 26], [0.005, 12], [0.015, 45], [0.025, 16], [0.035, 21], [0.045, 11], [0.055, 29], [0.065, 18], [0.075, 14],
  [0.085, 38], [0.095, 22], [0.105, 10], [0.115, 17], [0.125, 27], [0.135, 13], [0.145, 20], [0.155, 43], [0.165, 15],
  [0.175, 24], [0.185, 11.5], [0.195, 19], [0.205, 32], [0.215, 14], [0.225, 22], [0.235, 9.8], [0.245, 26],
  [-0.24, 22], [-0.22, 14], [-0.2, 19], [-0.18, 27], [-0.16, 12.5], [-0.14, 23], [-0.12, 16], [-0.1, 35], [-0.08, 20],
  [-0.06, 13], [-0.04, 25], [-0.02, 17], [0, 31], [0.02, 13], [0.04, 20], [0.06, 24], [0.08, 16], [0.1, 28], [0.12, 12],
  [0.14, 19], [0.16, 34], [0.18, 17], [0.2, 23], [0.22, 13], [0.24, 18], [-0.23, 20], [-0.19, 16], [-0.15, 21],
  [-0.11, 18], [-0.07, 22], [-0.03, 20], [0.01, 17], [0.05, 22], [0.09, 19], [0.13, 21], [0.17, 18], [0.21, 20],
  [0.25, 15], [-0.21, 24], [-0.17, 13], [-0.13, 20], [-0.09, 17], [-0.05, 15], [-0.01, 22], [0.03, 19], [0.07, 12],
  [0.11, 21], [0.15, 24], [0.19, 14], [0.23, 29]
]
const C4_POST_NON_ASIA_CORE: Pt[] = [
  [-0.246, 21], [-0.241, 14], [-0.236, 29], [-0.231, 17], [-0.226, 24], [-0.221, 12], [-0.216, 36], [-0.211, 19],
  [-0.206, 26], [-0.201, 15], [-0.196, 22], [-0.191, 31], [-0.186, 13], [-0.181, 20], [-0.176, 41], [-0.171, 25],
  [-0.166, 16], [-0.161, 28], [-0.156, 11], [-0.151, 22], [-0.146, 18], [-0.141, 33], [-0.136, 24], [-0.131, 14],
  [-0.126, 20], [-0.121, 27], [-0.116, 12], [-0.111, 19], [-0.106, 38], [-0.101, 23], [-0.096, 16], [-0.091, 29],
  [-0.086, 21], [-0.081, 13], [-0.076, 25], [-0.071, 18], [-0.066, 44], [-0.061, 22], [-0.056, 15], [-0.051, 30],
  [-0.046, 20], [-0.041, 12], [-0.036, 26], [-0.031, 17], [-0.026, 34], [-0.021, 21], [-0.016, 14], [-0.011, 27],
  [-0.006, 19], [-0.001, 24], [0.004, 16], [0.009, 37], [0.014, 22], [0.019, 11], [0.024, 28], [0.029, 18], [0.034, 25],
  [0.039, 14], [0.044, 32], [0.049, 21], [0.054, 17], [0.059, 42], [0.064, 23], [0.069, 13], [0.074, 27], [0.079, 19],
  [0.084, 30], [0.089, 15], [0.094, 22], [0.099, 12], [0.104, 26], [0.109, 35], [0.114, 20], [0.119, 16], [0.124, 29],
  [0.129, 23], [0.134, 11], [0.139, 25], [0.144, 18], [0.149, 39], [0.154, 21], [0.159, 14], [0.164, 27], [0.169, 19],
  [0.174, 31], [0.179, 16], [0.184, 24], [0.189, 12], [0.194, 28], [0.199, 20], [0.204, 45], [0.209, 17], [0.214, 25],
  [0.219, 13], [0.224, 33], [0.229, 21], [0.234, 15], [0.239, 27], [0.244, 19], [0.249, 23], [-0.2, 9.2], [-0.1, 8.9],
  [0.02, 9.4], [0.12, 9], [0.22, 9.3], [-0.15, 47], [-0.03, 48], [0.09, 46], [0.19, 48]
]

const FONT = "'Liberation Sans', Arial, Helvetica, sans-serif"
const INK = "#111"
const AXIS = "#333"
const BOX_FILL = "#A8DCE7"
const X_DOMAIN = [0.459, 3.551]
const BOX_HALF = 0.363
const X_AXIS_H = 40

const dot = (p: any) => (
  <circle cx={p.cx} cy={p.cy} r={2.3} fill="none" stroke="#000" strokeWidth={1.4} />
)

function CategoryTick({ x, y, payload, ns }: any) {
  const i = payload.value - 1
  return (
    <text x={x} y={y} textAnchor="middle" fontFamily={FONT} fontSize={16} fontWeight="bold" fill={INK}>
      <tspan x={x} dy={18}>{GROUPS[i]}</tspan>
      <tspan x={x} dy={20.5}>{`(n=${ns[i]})`}</tspan>
    </text>
  )
}

function Panel({
  top,
  height,
  plotTop,
  plotBottom,
  yDomain,
  yTicks,
  boxes,
  groups,
  ns
}: {
  top: number
  height: number
  plotTop: number
  plotBottom: number
  yDomain: number[]
  yTicks: number[]
  boxes: Box[]
  groups: Pt[][]
  ns: number[]
}) {
  return (
    <div style={{ position: "absolute", left: 0, top }}>
      <ScatterChart
        width={709}
        height={height}
        margin={{ top: plotTop, right: 0, bottom: height - plotBottom - X_AXIS_H, left: 0 }}
        style={{ overflow: "visible" }}
      >
        <XAxis
          type="number"
          dataKey="x"
          domain={X_DOMAIN}
          ticks={[1, 2, 3]}
          interval={0}
          allowDataOverflow
          height={X_AXIS_H}
          tickSize={5}
          tickMargin={0}
          stroke={AXIS}
          tick={(p: any) => <CategoryTick {...p} ns={ns} />}
        />
        <YAxis
          type="number"
          dataKey="y"
          scale="log"
          domain={yDomain}
          ticks={yTicks}
          interval={0}
          allowDataOverflow
          width={69}
          tickSize={6}
          tickMargin={4}
          stroke={AXIS}
          tick={{ fill: AXIS, fontSize: 16, fontFamily: FONT }}
          tickFormatter={(v: number) => String(v)}
        />
        {boxes.map((b, i) => (
          <ReferenceArea
            key={`box${i}`}
            x1={i + 1 - BOX_HALF}
            x2={i + 1 + BOX_HALF}
            y1={b[1]}
            y2={b[3]}
            fill={BOX_FILL}
            fillOpacity={1}
            stroke="#3a3a3a"
            strokeWidth={1}
          />
        ))}
        {boxes.map((b, i) => (
          <ReferenceLine
            key={`lo${i}`}
            segment={[{ x: i + 1, y: b[0] }, { x: i + 1, y: b[1] }]}
            stroke={AXIS}
            strokeWidth={1}
          />
        ))}
        {boxes.map((b, i) => (
          <ReferenceLine
            key={`hi${i}`}
            segment={[{ x: i + 1, y: b[3] }, { x: i + 1, y: b[4] }]}
            stroke={AXIS}
            strokeWidth={1}
          />
        ))}
        {boxes.map((b, i) => (
          <ReferenceLine
            key={`med${i}`}
            segment={[{ x: i + 1 - BOX_HALF, y: b[2] }, { x: i + 1 + BOX_HALF, y: b[2] }]}
            stroke={INK}
            strokeWidth={2.6}
          />
        ))}
        {groups.map((g, i) => (
          <Scatter
            key={`pts${i}`}
            data={g.map(([dx, y]) => ({ x: i + 1 + dx, y }))}
            shape={dot}
            isAnimationActive={false}
          />
        ))}
      </ScatterChart>
    </div>
  )
}

const LABEL_Y = [126, 444.7, 765]
const TITLE_Y = [12.5, 331.5, 651]
const TAG_Y = [14.5, 329.5, 644.5]

export default function App() {
  return (
    <div style={{ position: "absolute", left: 0, top: 0, width: 709, height: 949, background: "#fff" }}>
      <Panel
        top={0}
        height={318}
        plotTop={13.3}
        plotBottom={261.7}
        yDomain={[0.398, 105.4]}
        yTicks={Y_TICKS_C1_POST}
        boxes={BOX_C1_POST}
        groups={[
          [...C1_POST_GLOBAL, ...C1_POST_GLOBAL_CORE],
          C1_POST_ASIA,
          [...C1_POST_NON_ASIA, ...C1_POST_NON_ASIA_CORE]
        ]}
        ns={N_C1_POST}
      />
      <Panel
        top={310}
        height={325}
        plotTop={22.7}
        plotBottom={271.7}
        yDomain={[0.426, 59.7]}
        yTicks={Y_TICKS_C4_PRE}
        boxes={BOX_C4_PRE}
        groups={[
          [...C4_PRE_GLOBAL, ...C4_PRE_GLOBAL_CORE],
          C4_PRE_ASIA,
          [...C4_PRE_NON_ASIA, ...C4_PRE_NON_ASIA_CORE]
        ]}
        ns={N_C4_PRE}
      />
      <Panel
        top={625}
        height={324}
        plotTop={27.7}
        plotBottom={275.3}
        yDomain={[0.204, 396]}
        yTicks={Y_TICKS_C4_POST}
        boxes={BOX_C4_POST}
        groups={[
          [...C4_POST_GLOBAL, ...C4_POST_GLOBAL_CORE],
          C4_POST_ASIA,
          [...C4_POST_NON_ASIA, ...C4_POST_NON_ASIA_CORE]
        ]}
        ns={N_C4_POST}
      />
      <svg
        width={709}
        height={949}
        style={{ position: "absolute", left: 0, top: 0, pointerEvents: "none" }}
      >
        {TITLES.map((t, i) => (
          <g key={t} fontFamily={FONT} fill={INK}>
            <text x={3} y={TAG_Y[i]} fontSize={16}>
              {TAGS[i]}
            </text>
            <text x={373} y={TITLE_Y[i]} fontSize={16} fontWeight="bold" textAnchor="middle">
              {t}
            </text>
            <text
              transform={`translate(13,${LABEL_Y[i]}) rotate(-90)`}
              fontSize={16}
              fontWeight="bold"
              textAnchor="middle"
            >
              Total antibody (µg/mL)
            </text>
          </g>
        ))}
      </svg>
    </div>
  )
}
